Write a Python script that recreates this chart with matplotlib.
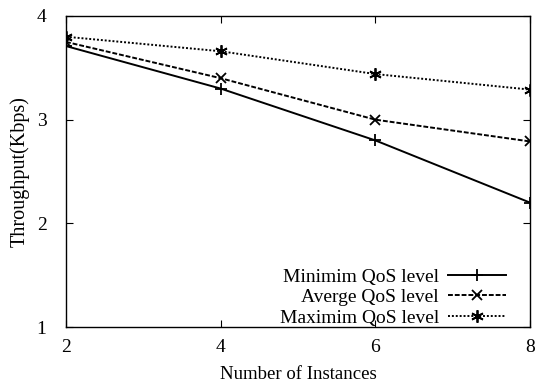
import matplotlib as mpl
mpl.use('Agg')
import matplotlib.pyplot as plt

instances = [2, 4, 6, 8]
min_qos = [3.71, 3.30, 2.80, 2.20]
avg_qos = [3.75, 3.40, 3.00, 2.79]
max_qos = [3.80, 3.66, 3.44, 3.29]

plt.rcParams['font.family'] = ['Liberation Serif', 'DejaVu Serif']
plt.rcParams['font.size'] = 14

fig = plt.figure(figsize=(5.42, 3.84), dpi=100)
ax = fig.add_axes([66/542, 1 - 327/384, (530-66)/542, (327-16)/384])

ax.plot(instances, min_qos, color='black', lw=1.4, ls='-', marker='+', ms=9, mew=1.3,
        label='Minimim QoS level')
ax.plot(instances, avg_qos, color='black', lw=1.4, ls=(0, (2.5, 1)), marker='x', ms=7, mew=1.3,
        label='Averge QoS level')
ax.plot(instances, max_qos, color='black', lw=1.4, ls=(0, (1, 1)), marker=(6, 2, 0), ms=9, mew=1.3,
        label='Maximim QoS level')

ax.set_xlim(2, 8)
ax.set_ylim(1, 4)
ax.set_xticks([2, 4, 6, 8])
ax.set_yticks([1, 2, 3, 4])
ax.tick_params(direction='in', top=True, right=True, length=5, width=0.8, labelsize=14)
ax.tick_params(axis='x', pad=9)
ax.tick_params(axis='y', pad=14)
for s in ax.spines.values():
    s.set_linewidth(1.0)
ax.set_xlabel('Number of Instances', fontsize=13.5, labelpad=7)
ax.set_ylabel('Throughput(Kbps)', fontsize=14.5, labelpad=5)

ax.legend(loc='lower right', bbox_to_anchor=(0.969, -0.03), frameon=False,
          markerfirst=False, fontsize=14, handlelength=3.0, handletextpad=0.45,
          labelspacing=0.15, borderaxespad=0.2, borderpad=0.3)

fig.savefig('out.png', dpi=100)
